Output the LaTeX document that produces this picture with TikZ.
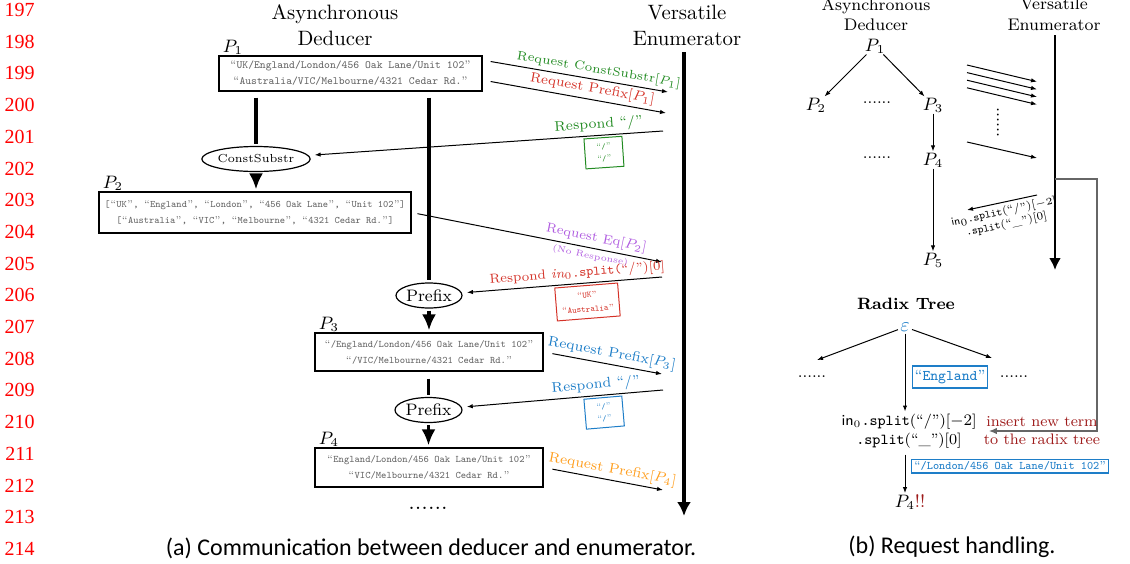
\documentclass[tikz,border=0pt]{standalone}
\usepackage{fontspec}
\usepackage{xcolor}
\usetikzlibrary{arrows.meta}
\usetikzlibrary{shapes.geometric}
\usetikzlibrary{positioning, calc}
\newfontfamily\capfont{Carlito}
\newfontfamily\numfont{Liberation Serif}
\definecolor{mygreen}{RGB}{34,139,34}
\definecolor{myred}{RGB}{212,50,40}
\definecolor{mypurple}{RGB}{176,92,224}
\definecolor{myblue}{RGB}{30,126,200}
\definecolor{myorange}{RGB}{255,158,30}
\definecolor{mydarkred}{RGB}{158,28,28}
% string literal with roman quotes around typewriter text
\newcommand{\qt}[1]{{\rmfamily“}#1{\rmfamily”}}

\tikzset{
  strbox/.style={draw, line width=0.6pt, align=center, inner sep=0pt, text=black!60},
  opnode/.style={draw, ellipse, line width=0.6pt, inner sep=0pt, minimum height=12.5pt},
  plabel/.style={inner sep=0.5pt, font=\fontsize{9}{10}\selectfont},
  flow/.style={line width=1.6pt},
  flowarrow/.style={line width=1.6pt, -{Latex[length=8pt,width=7pt]}},
  msg/.style={line width=0.5pt, -{Latex[length=3pt,width=2.2pt]}},
  rmsg/.style={line width=0.5pt, {Latex[length=3pt,width=2.2pt]}-},
  msglabel/.style={sloped, above, inner sep=1.6pt, font=\fontsize{7}{8}\selectfont},
  valbox/.style={draw, sloped, below, align=center, line width=0.5pt, inner sep=1pt,
    yshift=-1pt, font=\fontsize{4}{6}\ttfamily},
  dotsnode/.style={inner sep=0pt, font=\fontsize{8}{9}\selectfont},
  tag/.style={draw=myblue, text=myblue, line width=0.6pt, inner sep=1.2pt},
}

\begin{document}
\begin{tikzpicture}[x=0.5pt, y=-0.5pt]
\useasboundingbox (0,0) rectangle (1130,563);

% page line numbers
\foreach \n [count=\i from 0] in {197,...,214}
  \node[anchor=east, text=red, inner sep=0pt, font=\numfont\fontsize{10}{12}\selectfont] (ln\n) at (35,{10+31.7*\i}) {\n};

%% (a) deducer <-> enumerator
\node[align=center, font=\fontsize{10.4}{13}\selectfont] (deducerA) at (335,25) {Asynchronous\\Deducer};
\node[align=center, font=\fontsize{10.4}{13}\selectfont] (enumA) at (687,25) {Versatile\\Enumerator};

\node[strbox, minimum width=131.5pt, minimum height=17.5pt, font=\fontsize{5.5}{8}\ttfamily] (p1) at (350.5,73.5)
  {\qt{UK/England/London/456 Oak Lane/Unit 102}\\\qt{Australia/VIC/Melbourne/4321 Cedar Rd.}};
\node[plabel, above right=0pt and 1.5pt of p1.north west] (p1l) {$P_1$};

\node[opnode, minimum width=38pt, font=\fontsize{5.8}{7}\selectfont] (cs) at (256,159) {ConstSubstr};

\node[strbox, minimum width=156pt, minimum height=20.5pt, font=\fontsize{4.95}{8}\ttfamily] (p2) at (255,212.5)
  {[\qt{UK}, \qt{England}, \qt{London}, \qt{456 Oak Lane}, \qt{Unit 102}]\\\relax[\qt{Australia}, \qt{VIC}, \qt{Melbourne}, \qt{4321 Cedar Rd.}]};
\node[plabel, above right=0pt and 1.5pt of p2.north west] (p2l) {$P_2$};

\node[opnode, minimum width=33pt, font=\fontsize{8.3}{9}\selectfont] (pre1) at (429,295.5) {Prefix};

\node[strbox, minimum width=114pt, minimum height=19pt, font=\fontsize{5}{8}\ttfamily] (p3) at (429,352)
  {\qt{/England/London/456 Oak Lane/Unit 102}\\\qt{/VIC/Melbourne/4321 Cedar Rd.}};
\node[plabel, above right=0pt and 1.5pt of p3.north west] (p3l) {$P_3$};

\node[opnode, minimum width=33.5pt, font=\fontsize{8.3}{9}\selectfont] (pre2) at (428.5,410) {Prefix};

\node[strbox, minimum width=114pt, minimum height=19.5pt, font=\fontsize{5}{8}\ttfamily] (p4) at (429,467.5)
  {\qt{England/London/456 Oak Lane/Unit 102}\\\qt{VIC/Melbourne/4321 Cedar Rd.}};
\node[plabel, above right=0pt and 1.5pt of p4.north west] (p4l) {$P_4$};
\node[inner sep=0pt, font=\fontsize{12}{12}\selectfont] (moreA) at (428,508) {......};

% deducer flow
\draw[flow, shorten <=3pt, shorten >=1pt] (p1.south -| cs) -- (cs);
\draw[flowarrow, shorten <=1pt, shorten >=1pt] (cs) -- (p2.north -| cs);
\draw[flow, shorten <=3pt, shorten >=1pt] (p1.south -| pre1) -- (pre1);
\draw[flowarrow, shorten <=1pt, shorten >=1pt] (pre1) -- (p3.north -| pre1);
\draw[flow, shorten <=3.5pt, shorten >=1pt] (p3.south -| pre2) -- (pre2);
\draw[flowarrow, shorten <=1pt, shorten >=1pt] (pre2) -- (p4.north -| pre2);

% enumerator
\coordinate (enA) at (684,52);
\coordinate (enAend) at (684,516);
\draw[line width=1.6pt, -{Latex[length=7pt,width=7pt]}] (enA) -- (enAend);

% requests and responses
\coordinate (q1) at (668,92);
\coordinate (q2) at (666,113);
\coordinate (r1) at (663,131);
\coordinate (q3) at (662,262);
\coordinate (r2) at (662,277);
\coordinate (q4) at (662,374);
\coordinate (r3) at (663,390);
\coordinate (q5) at (663,490);

\draw[msg] ([xshift=4pt,yshift=6pt]p1.east) -- node[msglabel, pos=.6, text=mygreen, font=\fontsize{6.2}{7}\selectfont] (q1l) {Request ConstSubstr[$P_1$]} (q1);
\draw[msg] ([xshift=4pt,yshift=-4pt]p1.east) -- node[msglabel, pos=.57, text=myred, font=\fontsize{6.8}{8}\selectfont] (q2l) {Request Prefix[$P_1$]} (q2);

\draw[rmsg, shorten <=3pt] (cs) -- node[msglabel, pos=.82, text=mygreen] (r1l) {Respond “/”}
  node[valbox, pos=.83, draw=mygreen, text=mygreen, minimum width=19pt, minimum height=15pt] (r1v) {\qt{/}\\\qt{/}} (r1);

\draw[msg, shorten <=3pt] (p2.east) -- node[msglabel, pos=.73, text=mypurple, font=\fontsize{6.6}{8}\selectfont] (q3l) {Request Eq[$P_2$]}
  node[sloped, below, pos=.72, inner sep=1.6pt, text=mypurple, font=\fontsize{4.4}{5}\selectfont] (q3n) {(No Response)} (q3);

\draw[rmsg, shorten <=2.5pt] (pre1) -- node[msglabel, pos=.58, text=myred, font=\fontsize{6.6}{8}\selectfont] (r2l) {Respond $\mathit{in}_0$\texttt{.split(}“/”)[0]}
  node[valbox, pos=.62, draw=myred, text=myred, minimum width=31.5pt, minimum height=16.5pt, font=\fontsize{4.3}{7}\ttfamily] (r2v) {\qt{UK}\\\qt{Australia}} (r2);

\draw[msg, shorten <=4.5pt] (p3.east) -- node[msglabel, pos=.56, text=myblue] (q4l) {Request Prefix[$P_3$]} (q4);

\draw[rmsg, shorten <=2.5pt] (pre2) -- node[msglabel, pos=.67, text=myblue] (r3l) {Respond “/”}
  node[valbox, pos=.7, draw=myblue, text=myblue, minimum width=19pt, minimum height=15pt] (r3v) {\qt{/}\\\qt{/}} (r3);

\draw[msg, shorten <=4.5pt] (p4.east) -- node[msglabel, pos=.56, text=myorange] (q5l) {Request Prefix[$P_4$]} (q5);

\node[font=\capfont\fontsize{12}{14}\selectfont] (capA) at (431,548) {(a) Communication between deducer and enumerator.};

%% (b) request handling
\node[align=center, font=\fontsize{8.4}{10.4}\selectfont] (deducerB) at (876,14.6) {Asynchronous\\Deducer};
\node[align=center, font=\fontsize{8.4}{10.4}\selectfont] (enumB) at (1054,14.6) {Versatile\\Enumerator};

\node[plabel] (t1) at (875,46) {$P_1$};
\node[plabel] (t2) at (816,105) {$P_2$};
\node[plabel] (t3) at (933,105) {$P_3$};
\node[plabel] (t4) at (933,160) {$P_4$};
\node[plabel] (t5) at (933,260) {$P_5$};
\node[dotsnode] (tdots1) at (877,103) {......};
\node[dotsnode] (tdots2) at (877,158) {......};
\draw[msg] (t1) -- (t2);
\draw[msg] (t1) -- (t3);
\draw[msg] (t3) -- (t4);
\draw[msg] (t4) -- (t5);

% pending requests
\foreach \k in {0,...,3}
  \draw[msg] (967,{65+7.6*\k}) -- ++(70,16.7);
\node[dotsnode, rotate=90, font=\fontsize{8.7}{9}\selectfont] (vdots) at (998,122.5) {......};
\draw[msg] (967,142) -- ++(70,16);

\coordinate (enB) at (1055,35);
\coordinate (enBend) at (1055,270);
\draw[line width=1.4pt, -{Latex[length=6pt,width=6pt]}] (enB) -- (enBend);

\coordinate (rb1) at (967,210);
\coordinate (rb2) at (1037,195);
\draw[rmsg] (rb1) -- node[sloped, below, align=center, inner sep=1.8pt, font=\fontsize{5.5}{6.5}\selectfont] (rbl)
  {\textsf{in}$_0$\texttt{.split}(“/”)[$-2$]\\\texttt{.split}(“\_”)[0]} (rb2);

% radix tree
\node[font=\bfseries\fontsize{8.2}{9}\selectfont] (radix) at (906,304) {Radix Tree};
\node[text=myblue, inner sep=1pt, font=\fontsize{10}{11}\selectfont] (eps) at (905,327) {$\varepsilon$};
\coordinate (rl) at (817,360);
\coordinate (rr) at (992,358);
\draw[msg] (eps) -- (rl);
\draw[msg] (eps) -- (rr);
\node[dotsnode] (rdots1) at (812,377) {......};
\node[dotsnode] (rdots2) at (1014,377) {......};
\node[tag, font=\fontsize{7.4}{8}\ttfamily, minimum height=11pt] (eng) at (950,377) {\qt{England}};

\node[align=center, inner sep=1pt, font=\fontsize{7.6}{9.5}\selectfont] (split) at (909,431)
  {\textsf{in}$_0$\texttt{.split}(“/”)[$-2$]\\\texttt{.split}(“\_”)[0]};
\draw[msg] (eps) -- (eps |- split.north);

\node[plabel] (fin) at (910,502) {$P_4$\textcolor{mydarkred}{!!}};
\draw[msg, shorten <=2pt] (split.south -| eps) -- (fin.north -| eps);
\node[tag, anchor=west, font=\fontsize{5.8}{7}\ttfamily] (rest) at (911,466) {\qt{/London/456 Oak Lane/Unit 102}};

% new term goes back into the tree
\coordinate (tap) at (1055,179);
\coordinate (bend) at (1097,179);
\draw[line width=0.6pt, black!60, -{Latex[length=4pt,width=3.2pt]}, shorten >=5pt] (tap) -- (bend) |- (split);
\node[anchor=base, inner sep=0pt, text=mydarkred, font=\fontsize{7.6}{9}\selectfont] (ins1) at (1042,426) {insert new term};
\node[anchor=base, inner sep=0pt, text=mydarkred, font=\fontsize{7.6}{9}\selectfont] (ins2) at (1042,444) {to the radix tree};

\node[font=\capfont\fontsize{12}{14}\selectfont] (capB) at (952,547) {(b) Request handling.};

\end{tikzpicture}
\end{document}
